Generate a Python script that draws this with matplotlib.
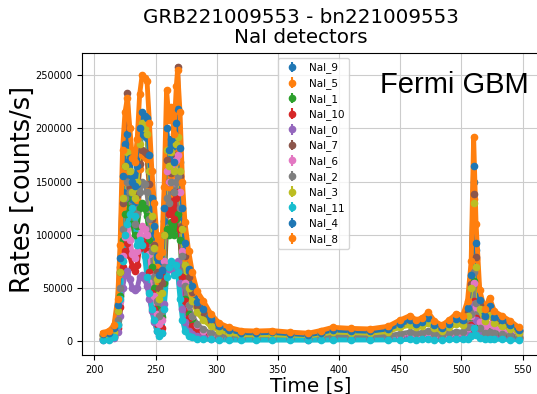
import numpy as np
import matplotlib
matplotlib.use("Agg")
import matplotlib.pyplot as plt

# time bins [s]
temps = [207, 212, 216, 219, 221, 223, 225, 227, 229, 231,
         233, 235, 237, 239, 241, 243, 245, 247, 249, 251,
         253, 255, 257, 259, 261, 263, 265, 267, 268, 270,
         272, 274, 277, 280, 284, 289, 295, 302, 310, 320,
         332, 345, 360, 375, 385, 395, 410, 425, 440, 450,
         458, 463, 468, 473, 478, 484, 490, 496, 501, 505,
         508, 510, 512, 515, 519, 523, 527, 533, 540, 547]

# rates in kcounts/s
nai_9 = [6.2, 7.8, 11.7, 31, 70, 140, 168, 179, 156, 134,
         131, 148, 181, 195, 193, 191, 160, 125, 101, 78,
         62, 66, 113, 184, 162, 172, 152, 187, 199, 168,
         117, 87, 66, 51, 37, 29.6, 20.3, 13.3, 10, 7.8,
         7.4, 7.8, 6.6, 5.9, 7.8, 10.1, 9.4, 9, 10.9, 15.6,
         18.7, 15.6, 17.2, 21, 14.8, 11.7, 15.6, 20.3, 18.7, 29.6,
         58.5, 150, 86, 37.4, 23.4, 32, 21.8, 18.7, 14.8, 10.1]
nai_5 = [5.6, 7, 10.5, 28, 63, 126, 150, 160, 140, 120,
         118, 133, 162, 175, 173, 171, 143, 112, 91, 70,
         56, 59, 101, 165, 145, 154, 136, 168, 178, 150,
         105, 78, 60, 45, 33, 27, 18, 12, 9, 7,
         6.7, 7, 6, 5.3, 7, 9.1, 8.4, 8, 9.8, 14,
         16.8, 14, 15.4, 19, 13.3, 10.5, 14, 18.2, 16.8, 26.6,
         52, 134, 77, 34, 21, 29, 19.6, 16.8, 13.3, 9.1]
nai_1 = [2.4, 3, 4.5, 16, 42, 95, 120, 135, 125, 110,
         100, 108, 125, 130, 125, 118, 95, 70, 50, 30,
         20, 23, 55, 105, 100, 112, 100, 115, 120, 95,
         60, 40, 26, 19, 13, 9.5, 6.5, 4.7, 3.5, 2.8,
         2.9, 3, 2.6, 2.3, 3, 3.9, 3.6, 3.5, 4.2, 6,
         7.2, 6, 6.6, 8.1, 5.7, 4.5, 6, 7.8, 7.2, 11.4,
         22.5, 57, 33, 14.4, 9, 12.3, 8.4, 7.2, 5.7, 3.9]
nai_10 = [1.8, 2.2, 3.5, 12, 32, 70, 85, 92, 80, 70,
          66, 72, 88, 95, 90, 85, 65, 45, 30, 16,
          9, 12, 60, 125, 120, 132, 115, 135, 140, 105,
          60, 38, 22, 14, 9, 6, 4, 3, 2.2, 1.8,
          1.9, 2, 1.7, 1.6, 2, 2.6, 2.4, 2.3, 2.8, 4,
          4.8, 4, 4.4, 5.4, 3.8, 3, 4, 5.2, 4.8, 7.6,
          15, 38, 22, 9.6, 6, 8.2, 5.6, 4.8, 3.8, 2.6]
nai_0 = [1.5, 2, 3, 9, 24, 50, 62, 66, 58, 50,
         48, 50, 60, 62, 58, 52, 40, 28, 18, 10,
         6, 8, 35, 70, 68, 72, 64, 72, 75, 55,
         30, 18, 10, 6.5, 4.5, 3.5, 2.5, 2, 1.8, 1.6,
         1.7, 1.8, 1.6, 1.5, 1.8, 2.4, 2.2, 2.1, 2.6, 3.6,
         4.3, 3.6, 4, 4.9, 3.4, 2.7, 3.6, 4.7, 4.3, 6.8,
         13.5, 35, 20, 8.5, 5.5, 7.4, 5, 4.3, 3.4, 2.3]
nai_7 = [5.5, 7, 10.5, 28, 65, 130, 165, 233, 145, 125,
         120, 137, 167, 180, 178, 176, 148, 115, 90, 65,
         50, 55, 100, 170, 150, 158, 140, 175, 258, 155,
         108, 80, 60, 46, 33, 27, 19, 12, 9, 7,
         6.8, 7.2, 6.1, 5.4, 7.2, 9.4, 8.6, 8.3, 10, 14.5,
         17, 14.5, 16, 19.5, 13.5, 11, 14.5, 18.5, 17, 27,
         54, 138, 79, 34, 21.5, 29.5, 20, 17, 13.5, 9.5]
nai_6 = [2.5, 3, 5, 15, 38, 80, 98, 105, 95, 82,
         78, 85, 100, 108, 105, 100, 82, 60, 42, 26,
         16, 20, 75, 160, 150, 165, 150, 170, 175, 140,
         85, 55, 34, 24, 15, 10, 6.5, 4.8, 3.5, 2.8,
         2.8, 3, 2.6, 2.3, 3, 4, 3.7, 3.5, 4.3, 6,
         7.5, 6.5, 7, 8.5, 6, 4.8, 6.5, 8, 7.5, 12,
         24, 55, 32, 18, 13, 16, 12, 10, 8, 6]
nai_2 = [3, 3.5, 6, 20, 50, 105, 135, 150, 140, 120,
         110, 120, 140, 150, 148, 140, 115, 85, 60, 38,
         24, 28, 70, 135, 130, 150, 140, 150, 155, 125,
         80, 52, 34, 24, 16, 11, 7.5, 5.5, 4, 3.2,
         3.2, 3.4, 3, 2.7, 3.5, 4.5, 4.3, 4.1, 5, 7,
         8.5, 7.5, 8, 9.5, 7, 5.5, 7.5, 9, 8.5, 13,
         26, 65, 36, 12, 8, 9, 7.5, 6.5, 5.5, 4]
nai_3 = [5, 6, 9, 28, 65, 135, 165, 178, 160, 140,
         135, 150, 185, 205, 200, 195, 160, 118, 88, 58,
         40, 45, 100, 180, 165, 178, 160, 185, 192, 160,
         105, 72, 50, 38, 27, 20, 14, 10, 7.5, 6,
         5.8, 6, 5.2, 4.6, 6.5, 8.5, 8, 7.5, 9, 13,
         15, 13, 14, 17, 12, 9.5, 13, 16, 15, 24,
         50, 130, 70, 30, 19, 25, 17, 14.5, 11.5, 8]
nai_11 = [1, 1.5, 4, 15, 40, 75, 100, 110, 120, 125,
          118, 90, 95, 90, 80, 60, 45, 30, 20, 10,
          5, 8, 30, 60, 70, 75, 62, 72, 65, 40,
          20, 10, 5, 3.5, 2.5, 2, 1.6, 1.3, 1.1, 1,
          1, 1, 1, 0.9, 1, 1.2, 1.1, 1.1, 1.2, 1.4,
          1.6, 1.5, 1.6, 1.8, 1.5, 1.4, 1.6, 1.8, 1.7, 2.5,
          5, 12, 6, 3, 2.2, 2.5, 2, 1.8, 1.5, 1.2]
nai_4 = [6.5, 8, 12, 34, 78, 155, 185, 195, 172, 150,
         146, 165, 200, 215, 212, 210, 175, 135, 108, 80,
         62, 67, 125, 200, 180, 190, 168, 205, 218, 182,
         125, 92, 68, 52, 37, 30, 21, 14, 10.5, 8,
         7.8, 8.2, 7, 6, 8, 10.5, 9.8, 9.3, 11.5, 16,
         19.5, 16.5, 18, 22, 15.5, 12.5, 16.5, 21, 19.5, 31,
         62, 165, 92, 39, 24, 33, 22.5, 19.5, 15.5, 10.5]
nai_8 = [8, 10, 15, 40, 90, 180, 215, 229, 200, 172,
         168, 190, 232, 250, 247, 245, 205, 160, 130, 100,
         80, 84, 145, 236, 208, 220, 195, 240, 255, 215,
         150, 112, 85, 65, 47, 38, 26, 17, 13, 10,
         9.5, 10, 8.5, 7.5, 10, 13, 12, 11.5, 14, 20,
         24, 20, 22, 27, 19, 15, 20, 26, 24, 38,
         75, 192, 110, 48, 30, 41, 28, 24, 19, 13]

detecteurs = ["NaI_9", "NaI_5", "NaI_1", "NaI_10", "NaI_0", "NaI_7",
              "NaI_6", "NaI_2", "NaI_3", "NaI_11", "NaI_4", "NaI_8"]
taux = [nai_9, nai_5, nai_1, nai_10, nai_0, nai_7,
        nai_6, nai_2, nai_3, nai_11, nai_4, nai_8]

dt = 1.024
couleurs = plt.rcParams['axes.prop_cycle'].by_key()['color']

fig = plt.figure(figsize=(5.37, 3.94), dpi=100)
ax = fig.add_axes([0.153, 0.099, 0.852, 0.766])

t = np.array(temps)
for idx, (nom, r) in enumerate(zip(detecteurs, taux)):
    r = np.array(r) * 1e3
    err = np.sqrt(r * dt) / dt
    c = couleurs[idx % len(couleurs)]
    ax.plot(t, r, '-', color=c, lw=3.5, zorder=2 + idx * 0.01)
    ax.errorbar(t, r, yerr=err, fmt='o', ms=4.5, color=c, label=nom,
                zorder=2 + idx * 0.01)

ax.set_xlim(190, 564)
ax.set_ylim(-13000, 270700)
ax.set_xticks(np.arange(200, 551, 50))
ax.set_yticks(np.arange(0, 250001, 50000))
ax.tick_params(labelsize=7)
ax.grid(True, color='#cccccc', lw=0.8)
ax.set_axisbelow(True)

ax.set_xlabel("Time [s]", fontsize=14.4, labelpad=1)
ax.set_ylabel("Rates [counts/s]", fontsize=18.4)
ax.yaxis.set_label_coords(-0.1, 0.55)
ax.set_title("GRB221009553 - bn221009553\nNaI detectors", fontsize=14.3,
             x=0.478, pad=7, linespacing=1.1)

ax.text(0.651, 0.94, "Fermi GBM", transform=ax.transAxes, ha='left', va='top',
        fontsize=21, family='Liberation Sans')

ax.legend(loc='upper center', fontsize=7.5, labelspacing=0.45,
          handletextpad=0.6, borderpad=0.4, framealpha=0.8,
          bbox_to_anchor=(0.505, 1.0))

fig.savefig("out.png", dpi=100)
